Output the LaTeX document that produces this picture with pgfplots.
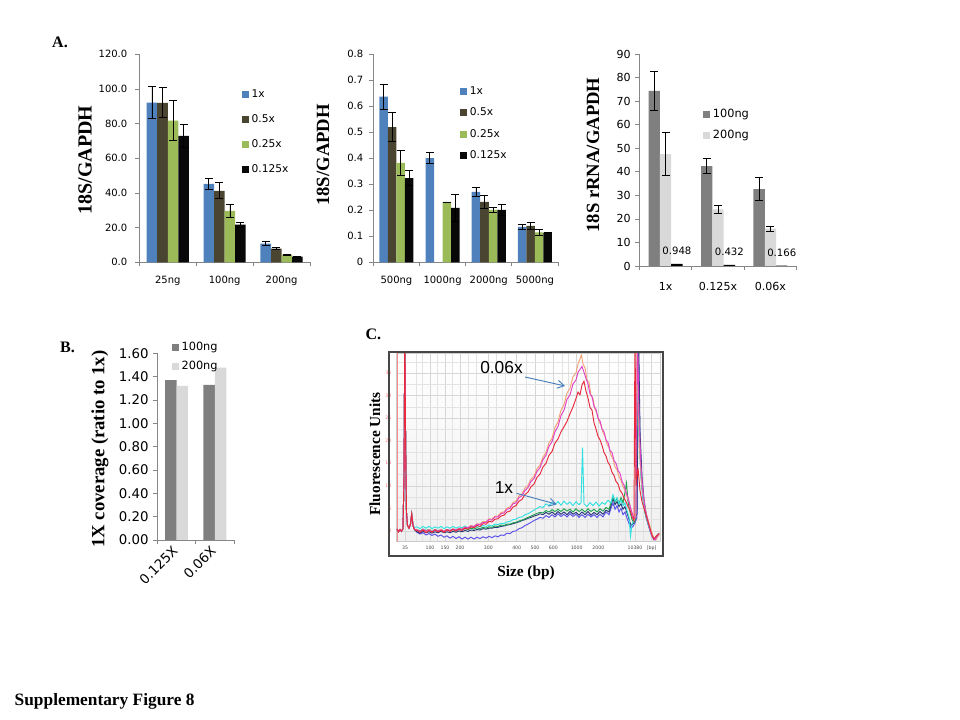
\documentclass[border=0pt]{standalone}
\usepackage{pgfplots}
\pgfplotsset{compat=1.18}
\usepackage{fontspec}
\setmainfont{Liberation Serif}
\newfontfamily\vf{DejaVu Sans}
\newfontfamily\af{Liberation Sans}
\usetikzlibrary{arrows.meta}
\definecolor{cA}{HTML}{4F81BD}
\definecolor{cB}{HTML}{4A4530}
\definecolor{cC}{HTML}{9BBB59}
\definecolor{cD}{HTML}{080808}
\definecolor{gD}{HTML}{7F7F7F}
\definecolor{gL}{HTML}{D9D9D9}
\definecolor{axg}{HTML}{868686}
\definecolor{tOr}{HTML}{F4A274}
\definecolor{tRd}{HTML}{E8283C}
\definecolor{tMg}{HTML}{E040C8}
\definecolor{tCy}{HTML}{30E0E0}
\definecolor{tGn}{HTML}{20A050}
\definecolor{tNv}{HTML}{283878}
\definecolor{tBl}{HTML}{5A50E8}
\definecolor{arr}{HTML}{4A7EBB}
\pgfplotsset{
  exc/.style={
    scale only axis, anchor=south west, ybar=0pt,
    axis lines*=left,
    axis line style={draw=axg, line width=0.6pt},
    tick align=outside, major tick length=3pt,
    tick style={draw=axg, line width=0.6pt},
    x tick label as interval,
    ymin=0, enlarge y limits=false,
    /pgf/number format/assume math mode=true,
    tick label style={font=\vf\fontsize{7.5}{9}\selectfont},
    xticklabel style={yshift=-4pt},
    legend cell align=left,
    legend image code/.code={\fill[##1] (0pt,-2.6pt) rectangle (5.2pt,2.6pt);},
    legend style={draw=none, fill=none, anchor=north west, inner sep=0pt,
      font=\vf\fontsize{8}{9}\selectfont, nodes={inner sep=0pt}, column sep=2pt},
  },
  eb/.style={error bars/y dir=both, error bars/y explicit,
    error bars/error bar style={black, line width=0.6pt},
    error bars/error mark options={rotate=90, black, line width=0.6pt, mark size=3pt}},
}
\begin{document}
\begin{tikzpicture}

% ---------- A1 ----------
\begin{axis}[exc, at={(104.5pt,343.3pt)}, width=128pt, height=156pt, bar width=7.9pt,
  xmin=-0.5, xmax=2.5, xtick={-0.5,0.5,1.5,2.5}, xticklabels={25ng,100ng,200ng},
  ymax=120, ytick={0,20,40,60,80,100,120},
  yticklabel style={xshift=-2.5pt, /pgf/number format/.cd, fixed, fixed zerofill, precision=1},
  ylabel={18S/GAPDH},
  ylabel style={font=\bfseries\fontsize{15}{18}\selectfont, at={(axis description cs:-0.318,0.492)}, anchor=center},
  legend style={at={(0.6,0.832)}, row sep=11.3pt}]
\addplot[fill=cA, draw=none, eb] coordinates {(0,92.1) +- (0,9.2) (1,45.2) +- (0,3.0) (2,10.8) +- (0,1.3)};
\addplot[fill=cB, draw=none, eb] coordinates {(0,92.0) +- (0,8.7) (1,41.2) +- (0,4.6) (2,7.9) +- (0,0.5)};
\addplot[fill=cC, draw=none, eb] coordinates {(0,81.7) +- (0,11.6) (1,29.6) +- (0,4.0) (2,4.4) +- (0,0.4)};
\addplot[fill=cD, draw=none, eb] coordinates {(0,72.9) +- (0,6.6) (1,21.7) +- (0,1.5) (2,3.3) +- (0,0.3)};
\legend{1x,0.5x,0.25x,0.125x}
\end{axis}

% ---------- A2 ----------
\begin{axis}[exc, at={(280pt,343.3pt)}, width=138.5pt, height=156pt, bar width=6.4pt,
  xmin=-0.5, xmax=3.5, xtick={-0.5,0.5,1.5,2.5,3.5}, xticklabels={500ng,1000ng,2000ng,5000ng},
  ymax=0.8, ytick={0,0.1,0.2,0.3,0.4,0.5,0.6,0.7,0.8},
  yticklabel style={xshift=-1pt, /pgf/number format/.cd, fixed, precision=1},
  ylabel={18S/GAPDH},
  ylabel style={font=\bfseries\fontsize{14}{17}\selectfont, at={(axis description cs:-0.272,0.516)}, anchor=center},
  legend style={at={(0.4695,0.845)}, row sep=8.5pt}]
\addplot[fill=cA, draw=none, eb] coordinates {(0,0.637) +- (0,0.049) (1,0.401) +- (0,0.022) (2,0.271) +- (0,0.018) (3,0.136) +- (0,0.010)};
\addplot[fill=cB, draw=none, eb] coordinates {(0,0.520) +- (0,0.055) (2,0.232) +- (0,0.026) (3,0.140) +- (0,0.015)};
\addplot[fill=cC, draw=none, eb] coordinates {(0,0.382) +- (0,0.047) (1,0.232) +- (0,0) (2,0.201) +- (0,0.011) (3,0.115) +- (0,0.010)};
\addplot[fill=cD, draw=none, eb] coordinates {(0,0.324) +- (0,0.029) (1,0.209) +- (0,0.053) (2,0.201) +- (0,0.022) (3,0.113) +- (0,0)};
\legend{1x,0.5x,0.25x,0.125x}
\end{axis}

% ---------- A3 ----------
\begin{axis}[exc, at={(479.5pt,340.5pt)}, width=118pt, height=158.8pt, bar width=8.5pt,
  xmin=-0.5, xmax=2.5, xtick={-0.5,0.5,1.5,2.5}, xticklabels={1x,0.125x,0.06x},
  tick label style={font=\vf\fontsize{8.3}{10}\selectfont},
  xticklabel style={yshift=-1.5pt},
  ymax=90, ytick={0,10,20,30,40,50,60,70,80,90},
  ylabel={18S rRNA/GAPDH},
  ylabel style={font=\bfseries\fontsize{14}{17}\selectfont, at={(axis description cs:-0.294,0.524)}, anchor=center},
  legend style={at={(0.405,0.743)}, row sep=8pt, font=\vf\fontsize{8.5}{10}\selectfont}]
\addplot[fill=gD, draw=none, eb] coordinates {(0,74.4) +- (0,8.3) (1,42.5) +- (0,3.1) (2,32.7) +- (0,5.0)};
\addplot[fill=gL, draw=none, eb] coordinates {(0,47.6) +- (0,9.0) (1,24.1) +- (0,1.7) (2,15.9) +- (0,1.1)};
\addplot[fill=black, draw=none, nodes near coords, point meta=explicit symbolic,
  every node near coord/.append style={font=\vf\fontsize{7.6}{9}\selectfont, yshift=3.5pt}]
  coordinates {(0,0.948) [0.948] (1,0.432) [0.432] (2,0.166) [0.166]};
\legend{100ng,200ng}
\end{axis}

% ---------- B ----------
\begin{axis}[exc, at={(118pt,135pt)}, width=57.5pt, height=140pt, bar width=8.6pt,
  xmin=-0.5, xmax=1.5, xtick={-0.5,0.5,1.5}, xticklabels={0.125X,0.06X},
  tick label style={font=\vf\fontsize{10}{12}\selectfont},
  xticklabel style={rotate=45, anchor=east, xshift=3pt, yshift=1pt},
  ymax=1.6, ytick={0,0.2,0.4,0.6,0.8,1.0,1.2,1.4,1.6},
  yticklabel style={/pgf/number format/.cd, fixed, fixed zerofill, precision=2},
  ylabel={1X coverage (ratio to 1x)},
  ylabel style={font=\bfseries\fontsize{14}{17}\selectfont, at={(axis description cs:-0.747,0.487)}, anchor=center},
  legend style={at={(0.188,1.063)}, row sep=7pt, font=\vf\fontsize{8.5}{10}\selectfont}]
\addplot[fill=gD, draw=none] coordinates {(0,1.371) (1,1.329)};
\addplot[fill=gL, draw=none] coordinates {(0,1.320) (1,1.477)};
\legend{100ng,200ng}
\end{axis}

% ---------- C ----------
\begin{axis}[at={(297pt,133.7pt)}, anchor=south west, scale only axis, width=198pt, height=141.3pt,
  xmin=396, xmax=660, ymin=-2.4, ymax=39.4,
  axis background/.style={shade, top color=white, middle color=white, bottom color=gray!12},
  axis line style={draw=gray!40, line width=0.4pt},
  xtick={405,430,445,460,488.3,516.7,535,553.3,576.7,598.3,635,651.7},
  xticklabels={35,100,150,200,300,400,500,600,1000,2000,10380,{[bp]}},
  minor xtick={397,416,422,437,452,468,476,496,505,526,544,562,568,587,609,618,625,643},
  ytick={0,5,10,15,20,25,30,35}, minor ytick={-2.5,2.5,7.5,12.5,17.5,22.5,27.5,32.5,37.5},
  grid=both, major grid style={gray!32, line width=0.35pt}, minor grid style={gray!22, line width=0.35pt},
  major tick length=0pt, minor tick length=0pt,
  /pgf/number format/assume math mode=true,
  xticklabel style={font=\vf\fontsize{3.5}{4}\selectfont, text=black!70},
  yticklabel style={font=\vf\fontsize{3.5}{4}\selectfont, text=red!55},
  every axis plot/.append style={line width=0.7pt, mark=none},
]
\draw[red!45, line width=0.5pt] (axis cs:397.5,-2.4) -- (axis cs:397.5,39.4);
% blue
\addplot[tBl] coordinates {(397,0.4) (398.5,-0.2) (400,0.3) (401.5,-0.1) (403,0.5) (404,12) (404.8,44) (405.6,20) (406.5,4) (407.5,1.2) (409,0.6) (410.5,1.5) (411.7,3.7) (413,1.2) (414.5,0.3)
(417,-0.3) (420,-0.7) (423,-0.4) (426,-0.9) (429,-0.6) (432,-1.0) (435,-0.7) (438,-1.2) (441,-0.9) (444,-1.4) (447,-1.1) (450,-1.6) (453,-1.2) (456,-1.7) (459,-1.3) (462,-1.8) (465,-1.4) (468,-1.8) (471,-1.4) (474,-1.8) (477,-1.4) (480,-1.7) (483,-1.3) (486,-1.6) (489,-1.2) (492,-1.5) (495,-1.1) (498,-1.3) (501,-0.9) (504,-1.0) (507,-0.5) (510,-0.6) (513,-0.1) (516,0.0) (519,0.5) (522,0.7) (525,1.2) (528,1.5) (531,1.9) (534,2.3) (537,2.6) (540,3.0) (543,2.8) (546,3.4) (549,3.0) (552,3.6) (555,3.1) (558,3.8) (561,3.2) (564,3.7) (567,3.1) (570,3.8) (573,3.2) (576,3.7) (579,3.0) (582,3.6) (585,3.0) (588,3.7) (591,3.1) (594,3.6) (597,3.0) (600,3.7) (603,3.1) (606,4.2) (609,3.6) (611,5.0) (613,6.2) (615,4.8) (617,5.6) (619,4.2) (621,5.0) (623,3.6) (625,4.2) (627,2.8) (629,1.6) (631,0.6) (633,1.0) (635,1.8) (637,3) (638.5,40) (640,20) (642,10) (644,6) (646,3) (648,1.5) (650,0) (652,-1.2) (654,-2.0) (656,-1.6) (659,-0.8)};
% navy
\addplot[tNv] coordinates {(397,0.4) (398.5,-0.2) (400,0.3) (401.5,-0.1) (403,0.5) (404,12) (404.8,44) (405.6,20) (406.5,4) (407.5,1.2) (409,0.6) (410.5,1.5) (411.7,3.7) (413,1.2) (414.5,0.3)
(417,-0.2) (420,-0.5) (423,-0.1) (426,-0.4) (429,-0.2) (432,-0.5) (435,-0.2) (438,-0.4) (441,-0.1) (444,-0.4) (447,-0.2) (450,-0.4) (453,-0.1) (456,-0.3) (459,0.0) (462,-0.2) (465,0.1) (468,-0.1) (471,0.2) (474,0.1) (477,0.3) (480,0.2) (483,0.5) (486,0.4) (489,0.6) (492,0.6) (495,0.8) (498,0.8) (501,1.0) (504,1.1) (507,1.3) (510,1.4) (513,1.6) (516,1.8) (519,2.0) (522,2.3) (525,2.5) (528,2.8) (531,3.0) (534,3.3) (537,3.5) (540,3.8) (543,3.6) (546,4.1) (549,3.7) (552,4.2) (555,3.6) (558,4.3) (561,3.7) (564,4.2) (567,3.6) (570,4.3) (573,3.7) (576,4.1) (579,3.5) (582,4.2) (585,3.6) (588,4.3) (591,3.5) (594,4.1) (597,3.6) (600,4.3) (603,3.7) (606,4.6) (609,4.2) (611,5.6) (613,7.2) (615,5.8) (617,6.5) (619,5.4) (621,6.0) (623,4.8) (625,5.4) (627,4.0) (629,2.6) (631,1.2) (633,1.6) (635,2.4) (637,4) (638.5,45) (640,22) (642,12) (644,7) (646,4) (648,2) (650,0.5) (652,-1.0) (654,-1.8) (656,-1.4) (659,-0.6)};
% green
\addplot[tGn] coordinates {(397,0.4) (398.5,-0.2) (400,0.3) (401.5,-0.1) (403,0.5) (404,12) (404.8,44) (405.6,20) (406.5,4) (407.5,1.2) (409,0.6) (410.5,1.5) (411.7,3.7) (413,1.2) (414.5,0.3)
(417,0.3) (420,0.0) (423,0.4) (426,0.1) (429,0.3) (432,-0.1) (435,0.3) (438,0.0) (441,0.3) (444,0.0) (447,0.3) (450,0.1) (453,0.3) (456,0.0) (459,0.4) (462,0.2) (465,0.5) (468,0.3) (471,0.6) (474,0.4) (477,0.7) (480,0.5) (483,0.8) (486,0.6) (489,0.9) (492,0.8) (495,1.1) (498,1.0) (501,1.3) (504,1.2) (507,1.5) (510,1.5) (513,1.8) (516,1.9) (519,2.2) (522,2.4) (525,2.7) (528,3.0) (531,3.3) (534,3.6) (537,3.9) (540,4.1) (543,4.0) (546,4.5) (549,4.2) (552,4.7) (555,4.3) (558,4.8) (561,4.3) (564,4.9) (567,4.4) (570,4.8) (573,4.2) (576,4.9) (579,4.3) (582,4.8) (585,4.2) (588,4.9) (591,4.3) (594,4.8) (597,4.2) (600,4.9) (603,4.4) (606,5.2) (609,4.8) (611,6.2) (613,7.6) (615,6.4) (617,7.2) (619,6.0) (621,7.4) (623,6.2) (625,8.6) (626.5,10.6) (628,6.5) (630,4.2) (632,2.5) (634,1.8) (636,3) (637.5,40) (639,22) (641,12) (643,7) (645,4) (647,2.5) (649,1.0) (651,-0.6) (653,-1.5) (655,-1.8) (657,-1.0) (659,-0.5)};
% cyan
\addplot[tCy] coordinates {(397,0.4) (398.5,-0.2) (400,0.3) (401.5,-0.1) (403,0.5) (404,12) (404.8,44) (405.6,20) (406.5,4) (407.5,1.2) (409,0.6) (410.5,1.5) (411.7,3.7) (413,1.2) (414.5,0.8)
(417,0.9) (420,0.5) (423,1.0) (426,0.6) (429,1.0) (432,0.5) (435,0.9) (438,0.6) (441,1.0) (444,0.5) (447,0.9) (450,0.6) (453,1.0) (456,0.6) (459,0.9) (462,0.7) (465,1.1) (468,0.7) (471,1.0) (474,0.8) (477,1.1) (480,0.9) (483,1.2) (486,1.0) (489,1.3) (492,1.1) (495,1.5) (498,1.4) (501,1.7) (504,1.6) (507,2.0) (510,2.1) (513,2.5) (516,2.6) (519,3.0) (522,3.1) (525,3.6) (528,3.8) (531,4.2) (534,4.6) (537,5.0) (540,5.4) (543,5.2) (546,6.0) (549,5.6) (552,6.3) (555,5.8) (558,6.5) (561,5.7) (564,6.6) (567,5.9) (570,6.4) (573,5.6) (576,6.5) (579,5.8) (581,6.2) (582.5,18.5) (584,6.0) (587,5.4) (590,6.3) (593,5.6) (596,6.4) (599,5.5) (602,6.3) (605,5.9) (608,6.8) (611,6.2) (613,8.0) (615,6.6) (617,7.4) (619,6.0) (621,6.8) (623,5.6) (625,6.2) (627,4.5) (629,3.0) (630.5,-1.2) (632,1.5) (634,2.4) (636,4) (637.5,40) (639,22) (641,12) (643,7) (645,4) (647,2.5) (649,1.0) (651,-0.6) (653,-1.5) (655,-1.8) (657,-1.0) (659,-0.5)};
% orange
\addplot[tOr] coordinates {(397,0.4) (398.5,-0.2) (400,0.3) (401.5,-0.1) (403,0.5) (404,12) (404.8,44) (405.6,20) (406.5,4) (407.5,1.2) (409,0.6) (410.5,1.5) (411.7,3.7) (413,1.2) (414.5,0.3)
(417,0.3) (420,-0.2) (423,0.4) (426,-0.1) (429,0.3) (432,-0.2) (435,0.2) (438,-0.1) (441,0.4) (444,0.0) (447,0.3) (450,0.1) (453,0.5) (456,0.2) (459,0.6) (462,0.4) (465,0.9) (468,0.7) (471,1.2) (474,1.0) (477,1.6) (480,1.5) (483,2.1) (486,2.0) (489,2.7) (492,2.6) (495,3.3) (498,3.3) (501,4.1) (504,4.2) (507,5.1) (510,5.3) (513,6.3) (516,6.6) (519,7.8) (522,8.2) (525,9.5) (528,10.1) (531,11.5) (534,12.1) (537,13.8) (540,14.6) (543,16.4) (546,17.4) (549,19.6) (552,20.5) (555,23.0) (558,24.2) (561,26.8) (564,28.0) (567,30.6) (570,31.6) (573,34.2) (576,35.1) (578,37.0) (580,38.2) (581.5,39.0) (583,37.0) (585,36.2) (587,33.5) (589,33.0) (591,30.0) (593,29.4) (595,27.0) (597,26.0) (599,24.3) (601,23.5) (603,21.8) (605,21.0) (607,19.2) (609,18.5) (611,16.8) (613,16.0) (615,14.2) (617,13.6) (619,12.0) (621,11.2) (623,9.8) (625,9.0) (627,7.6) (629,6.5) (631,4.6) (633,3.4) (634.5,2.5) (636,4) (637,44) (638.5,26) (640,16) (642,10) (644,6.5) (646,4) (648,2.5) (650,1.0) (652,-0.5) (654,-1.6) (656,-2.0) (658,-1.2) (660,-0.5)};
% magenta
\addplot[tMg] coordinates {(397,0.4) (398.5,-0.2) (400,0.3) (401.5,-0.1) (403,0.5) (404,12) (404.8,44) (405.6,20) (406.5,4) (407.5,1.2) (409,0.6) (410.5,1.5) (411.7,3.7) (413,1.2) (414.5,0.3)
(417,0.2) (420,-0.1) (423,0.3) (426,0.0) (429,0.2) (432,-0.2) (435,0.3) (438,0.0) (441,0.2) (444,-0.1) (447,0.3) (450,0.1) (453,0.4) (456,0.2) (459,0.5) (462,0.4) (465,0.8) (468,0.7) (471,1.1) (474,1.0) (477,1.5) (480,1.4) (483,1.9) (486,1.9) (489,2.5) (492,2.4) (495,3.1) (498,3.1) (501,3.8) (504,4.0) (507,4.8) (510,5.0) (513,6.0) (516,6.2) (519,7.4) (522,7.8) (525,9.0) (528,9.6) (531,11.0) (534,11.6) (537,13.2) (540,14.0) (543,15.8) (546,16.8) (549,18.8) (552,19.8) (555,22.0) (558,23.2) (561,25.6) (564,26.8) (567,29.2) (570,30.2) (573,32.6) (576,33.5) (578,35.2) (580,35.8) (582,36.5) (584,35.2) (586,33.8) (588,32.6) (590,30.4) (592,29.8) (594,27.6) (596,27.0) (598,25.0) (600,24.4) (602,22.6) (604,22.0) (606,20.2) (608,19.6) (610,17.8) (612,17.4) (614,15.6) (616,15.0) (618,13.4) (620,12.8) (622,11.0) (624,10.2) (626,8.6) (628,7.4) (630,5.6) (632,4.0) (634,2.8) (636,3.0) (637.5,46) (639,25) (641,14) (643,8.5) (645,5) (647,3) (649,1.2) (651,-0.5) (653,-1.6) (655,-2.0) (657,-1.2) (659,-0.6)};
% red
\addplot[tRd] coordinates {(397,0.4) (398.5,-0.2) (400,0.3) (401.5,-0.1) (403,0.5) (404,12) (404.8,44) (405.6,20) (406.5,4) (407.5,1.2) (409,0.6) (410.5,1.5) (411.7,3.7) (413,1.2) (414.5,0.3)
(417,0.1) (420,-0.3) (423,0.2) (426,-0.4) (429,0.1) (432,-0.3) (435,0.2) (438,-0.2) (441,0.1) (444,-0.3) (447,0.2) (450,-0.1) (453,0.3) (456,0.0) (459,0.4) (462,0.1) (465,0.6) (468,0.4) (471,0.9) (474,0.7) (477,1.2) (480,1.0) (483,1.6) (486,1.5) (489,2.1) (492,2.0) (495,2.6) (498,2.7) (501,3.3) (504,3.5) (507,4.2) (510,4.4) (513,5.3) (516,5.6) (519,6.6) (522,7.0) (525,8.1) (528,8.6) (531,9.8) (534,10.4) (537,11.9) (540,12.6) (543,14.2) (546,15.0) (549,16.8) (552,17.6) (555,19.5) (558,20.4) (561,22.0) (564,23.1) (567,24.3) (570,26.0) (573,27.5) (576,29.4) (578,30.8) (580,30.2) (582,32.4) (584,33.2) (586,31.0) (588,29.5) (590,27.4) (592,26.8) (594,24.0) (596,22.6) (598,21.0) (600,20.2) (602,19.0) (604,17.4) (606,16.6) (608,15.2) (610,14.5) (612,13.0) (614,12.3) (616,11.0) (618,10.4) (620,9.0) (622,8.4) (624,7.3) (626,6.5) (628,5.4) (630,4.6) (632,3.2) (634,2.2) (635,46) (636,10) (638,14) (640,9) (642,6.5) (644,5) (646,3.5) (648,2) (650,0.5) (652,-1) (654,-1.8) (656,-1.2) (659,-0.6)};
\end{axis}
\draw[gray!55!black, line width=1.4pt] (292pt,276.2pt) rectangle (497pt,123pt);

% ---------- annotations ----------
\node[font=\af\fontsize{13}{15}\selectfont] at (376.1pt,264.4pt) {0.06x};
\node[font=\af\fontsize{13}{15}\selectfont] at (378pt,174.2pt) {1x};
\draw[arr, line width=0.7pt, -{Straight Barb[length=5pt,width=6pt]}] (393.75pt,257.25pt) -- (423.75pt,250.5pt);
\draw[arr, line width=0.7pt, -{Straight Barb[length=5pt,width=6pt]}] (387.5pt,170pt) -- (417.5pt,161.8pt);
\node[rotate=90, font=\bfseries\fontsize{11.5}{14}\selectfont] at (281.25pt,199.5pt) {Fluorescence Units};
\node[font=\bfseries\fontsize{11.5}{14}\selectfont] at (394.5pt,110.25pt) {Size (bp)};
\node[font=\bfseries\fontsize{12}{14}\selectfont] at (45pt,508.5pt) {A.};
\node[font=\bfseries\fontsize{12}{14}\selectfont] at (50.6pt,279.75pt) {B.};
\node[font=\bfseries\fontsize{12}{14}\selectfont] at (280.1pt,289.5pt) {C.};
\node[anchor=base west, font=\bfseries\fontsize{13}{15}\selectfont] at (7.5pt,10.5pt) {Supplementary Figure 8};
\pgfresetboundingbox
\path[use as bounding box] (0pt,0pt) rectangle (720pt,540pt);
\end{tikzpicture}
\end{document}
